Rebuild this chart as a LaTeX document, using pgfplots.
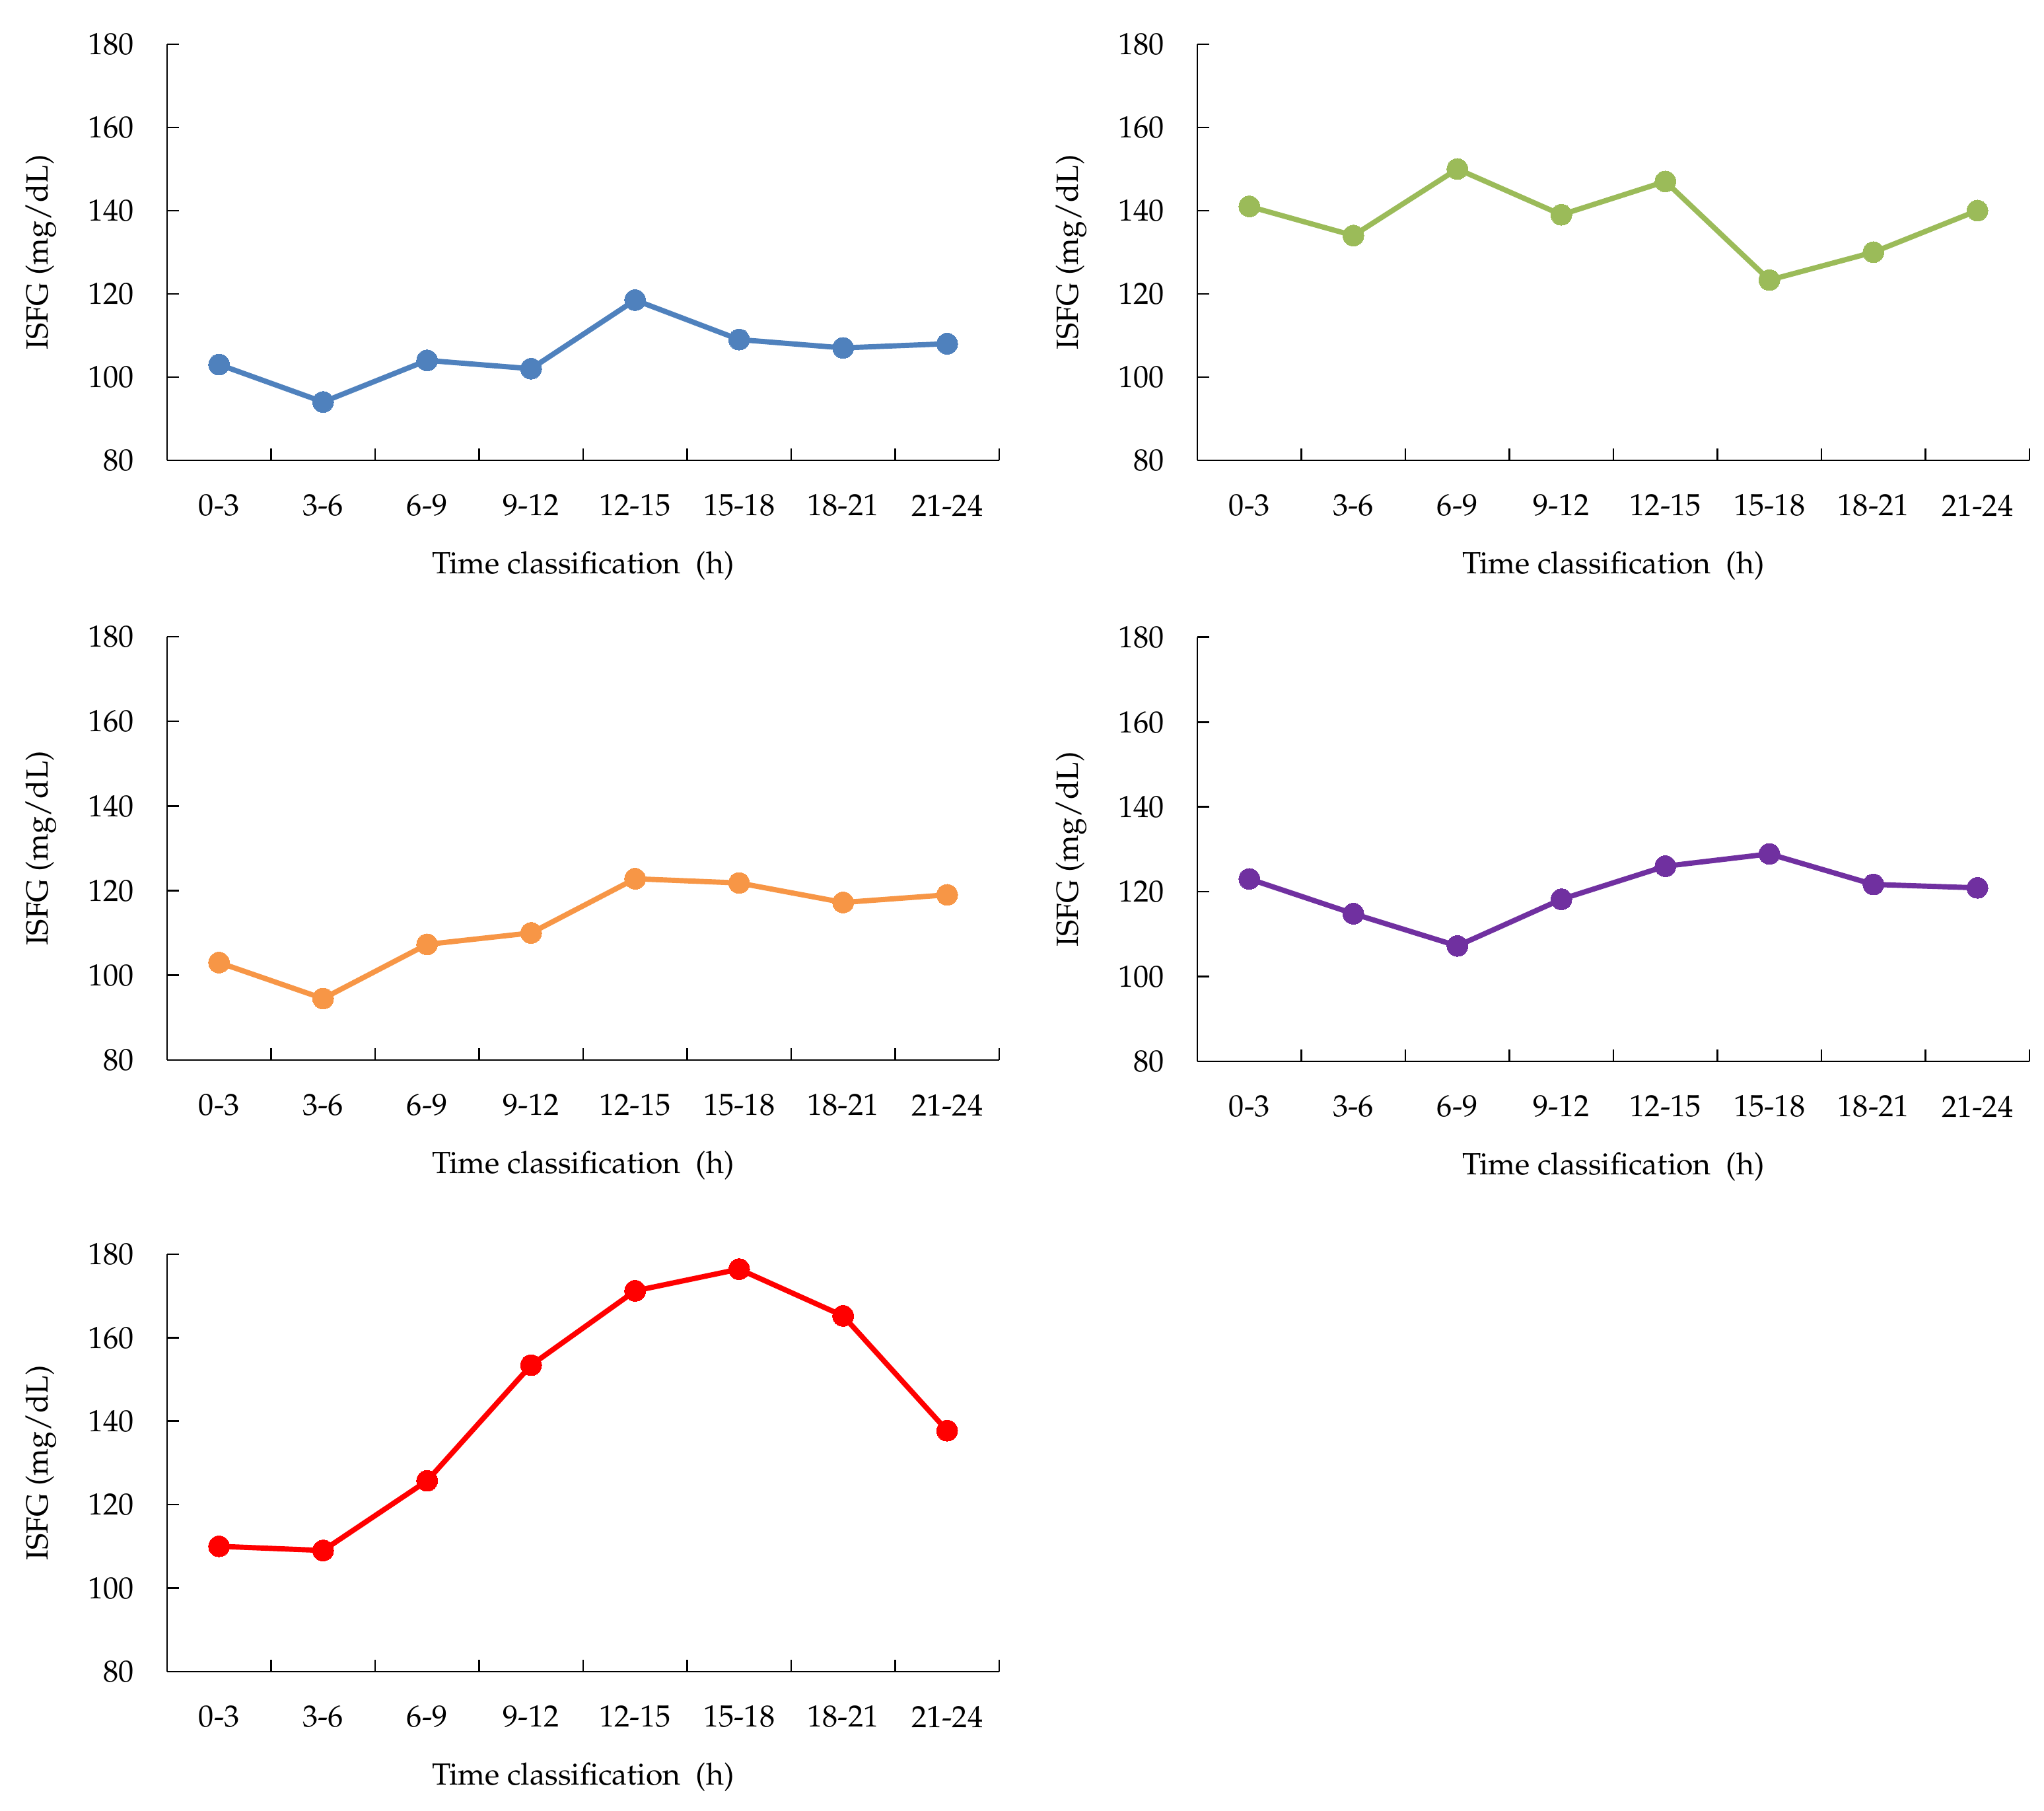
\documentclass[border=0pt]{standalone}
\usepackage[T1]{fontenc}
\usepackage{mathpazo}
\usepackage{pgfplots}
\pgfplotsset{compat=1.18}

\definecolor{cblue}{RGB}{79,129,189}
\definecolor{cgreen}{RGB}{155,187,89}
\definecolor{corange}{RGB}{247,150,70}
\definecolor{cpurple}{RGB}{112,48,160}
\definecolor{cred}{RGB}{255,0,0}

% 1 px of the reference = 0.2268pt
\pgfplotsset{
  isfg/.style={
    scale only axis,
    width=285.79pt,
    font=\fontsize{10.5}{12.6}\selectfont,
    xmin=-0.5, xmax=7.5,
    ymin=80, ymax=180,
    axis x line=bottom,
    axis y line=left,
    axis line style={-, line width=0.6pt},
    xtick={-0.5,0.5,...,7.5},
    x tick label as interval,
    xticklabels={0-3,3-6,6-9,9-12,12-15,15-18,18-21,21-24},
    ytick={80,100,...,180},
    tick align=inside,
    major tick length=4pt,
    tick style={black, line width=0.6pt},
    xticklabel style={anchor=center, yshift=-15.5pt},
    yticklabel style={anchor=east, xshift=-7.8pt},
    xlabel={Time classification~~(h)},
    ylabel={ISFG (mg/dL)},
    xlabel style={at={(axis description cs:0.5,0)}, anchor=center, yshift=-36.2pt},
    ylabel style={at={(axis description cs:0,0.5)}, anchor=center, yshift=43.2pt},
    clip=false,
  },
  ser/.style={color=#1, line width=1.8pt, mark=*, mark size=3.6pt,
    mark options={solid, fill=#1, draw=#1, line width=0pt}},
}

\begin{document}
\begin{tikzpicture}
\useasboundingbox (0,0) rectangle (702pt,621.9pt);

% blue
\begin{axis}[isfg, height=142.89pt, at={(57.38pt,463.84pt)}, anchor=south west]
  \addplot[ser=cblue] coordinates {
    (0,103) (1,94) (2,104) (3,102) (4,118.5) (5,109) (6,107) (7,108)
  };
\end{axis}

% green
\begin{axis}[isfg, height=142.89pt, at={(411.22pt,463.84pt)}, anchor=south west]
  \addplot[ser=cgreen] coordinates {
    (0,141) (1,134) (2,150) (3,139) (4,147) (5,123.3) (6,130) (7,140)
  };
\end{axis}

% orange
\begin{axis}[isfg, height=145.39pt, at={(57.38pt,257.89pt)}, anchor=south west]
  \addplot[ser=corange] coordinates {
    (0,103) (1,94.5) (2,107.3) (3,110) (4,122.8) (5,121.8) (6,117.2) (7,119)
  };
\end{axis}

% purple
\begin{axis}[isfg, height=145.62pt, at={(411.22pt,257.44pt)}, anchor=south west]
  \addplot[ser=cpurple] coordinates {
    (0,123) (1,114.8) (2,107.2) (3,118.2) (4,126) (5,128.9) (6,121.7) (7,120.9)
  };
\end{axis}

% red
\begin{axis}[isfg, height=143.35pt, at={(57.38pt,47.86pt)}, anchor=south west]
  \addplot[ser=cred] coordinates {
    (0,110) (1,109) (2,125.7) (3,153.4) (4,171.2) (5,176.4) (6,165.2) (7,137.7)
  };
\end{axis}
\end{tikzpicture}
\end{document}
